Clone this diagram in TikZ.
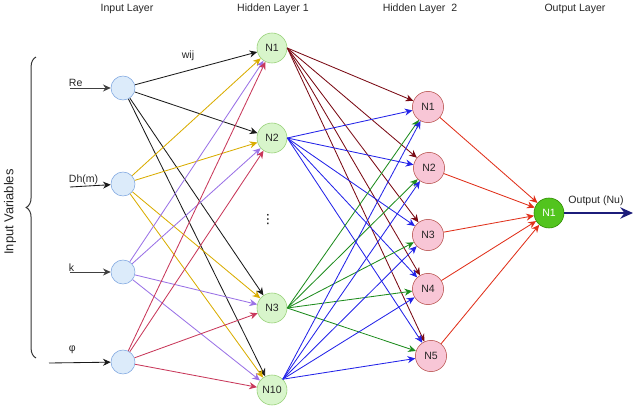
\documentclass[tikz,border=0pt]{standalone}
\usepackage{fontspec}
\setmainfont{Liberation Sans}
\newfontfamily\symfont{DejaVu Sans}
\usetikzlibrary{arrows.meta,decorations.pathreplacing,calc}
\definecolor{infill}{HTML}{DCEBFA}
\definecolor{indraw}{HTML}{7EA6E0}
\definecolor{hafill}{HTML}{D8F5CB}
\definecolor{hadraw}{HTML}{97D077}
\definecolor{hbfill}{HTML}{F8C6D6}
\definecolor{hbdraw}{HTML}{B85450}
\definecolor{outfill}{HTML}{52C41E}
\definecolor{outdraw}{HTML}{2D8A00}
\definecolor{cblack}{HTML}{1A1A1A}
\definecolor{cgold}{HTML}{D9AC00}
\definecolor{cpurple}{HTML}{9A72E6}
\definecolor{ccrimson}{HTML}{C8385A}
\definecolor{cdarkred}{HTML}{7A0A14}
\definecolor{cblue}{HTML}{2323E8}
\definecolor{cgreen}{HTML}{1E8C1E}
\definecolor{cred}{HTML}{E0301A}
\definecolor{cnavy}{HTML}{1C1C7A}
\tikzset{
    inode/.style = {draw=indraw, fill=infill, circle, 
        minimum size=0.6cm, inner sep=0pt},
    hanode/.style = {draw=hadraw, fill=hafill, circle, 
        minimum size=0.75cm, inner sep=0pt},
    hbnode/.style = {draw=hbdraw, fill=hbfill, circle, 
        minimum size=0.78cm, inner sep=0pt},
    onode/.style = {draw=outdraw, fill=outfill, circle, text=white,
        minimum size=0.75cm, inner sep=0pt},
    arrow/.style = {draw, -{Stealth[length=5.5pt,width=5pt]}, line width=0.6pt},
    outarrow/.style = {draw=cnavy, -{Stealth[length=9pt,width=8pt]}, line width=1.6pt},
    brace/.style = {draw=black!80, line width=0.7pt, decorate,
        decoration={brace,amplitude=7pt}}
}

\begin{document}
\begin{tikzpicture}[x=0.025cm, y=-0.025cm,
    every node/.append style={font=\fontsize{7.5}{9}\selectfont, text=black!85}]
    \useasboundingbox (0,0) rectangle (640,408);
    % layer titles
    \node (tin) at (127,9) {Input Layer};
    \node (tha) at (273,9) {Hidden Layer 1};
    \node (thb) at (420,9) {Hidden Layer~~2};
    \node (tout) at (575,9) {Output Layer};
    % input variables
    \draw[brace] (36,358) -- (36,57);
    \node[rotate=90, font=\fontsize{9.2}{11}\selectfont] (tvar) at (10,212) {Input Variables};
    \node[anchor=south west] (lre) at (64,92) {Re};
    \node[anchor=south west] (ldh) at (64,190) {Dh(m)};
    \node[anchor=south west] (lk) at (64,276) {k};
    \node[anchor=south west] (lphi) at (64,359) {φ};
    \coordinate (cre) at (70,88);
    \coordinate (cdh) at (70,187);
    \coordinate (ck) at (70,272);
    \coordinate (cphi) at (49,363);
    % nodes
    \node[inode] (in1) at (123,88) {};
    \node[inode] (in2) at (123,184) {};
    \node[inode] (in3) at (123,272) {};
    \node[inode] (in4) at (123,362) {};
    \node[hanode] (ha1) at (272,48) {N1};
    \node[hanode] (ha2) at (272,138) {N2};
    \node[hanode] (ha3) at (272,308) {N3};
    \node[hanode] (ha4) at (272,390) {N10};
    \node[font=\symfont\fontsize{9}{10}\selectfont, text=black] (dots) at (268,220) {⋮};
    \node[hbnode] (hb1) at (428,107) {N1};
    \node[hbnode] (hb2) at (429,168) {N2};
    \node[hbnode] (hb3) at (428,235) {N3};
    \node[hbnode] (hb4) at (428,289) {N4};
    \node[hbnode] (hb5) at (431,356) {N5};
    \node[onode] (out) at (549,213) {N1};
    \coordinate (oend) at (633,213);
    \node (lout) at (596,201) {Output (Nu)};
    \node (lw) at (188,56) {wij};
    % inputs
    \draw [arrow, black!75] (cre) -- (in1);
    \draw [arrow, cblack] (cdh) -- (in2);
    \draw [arrow, black!75] (ck) -- (in3);
    \draw [arrow, cblack] (cphi) -- (in4);
    % input layer -> hidden layer 1
    \draw [arrow, cblack] (in1) -- (ha1);
    \draw [arrow, cblack] (in1) -- (ha2);
    \draw [arrow, cblack] (in1) -- (ha3);
    \draw [arrow, cblack] (in1) -- (ha4);
    \draw [arrow, cgold] (in2) -- (ha1);
    \draw [arrow, cgold] (in2) -- (ha2);
    \draw [arrow, cgold] (in2) -- (ha3);
    \draw [arrow, cgold] (in2) -- (ha4);
    \draw [arrow, cpurple] (in3) -- (ha1);
    \draw [arrow, cpurple] (in3) -- (ha2);
    \draw [arrow, cpurple] (in3) -- (ha3);
    \draw [arrow, cpurple] (in3) -- (ha4);
    \draw [arrow, ccrimson] (in4) -- (ha1);
    \draw [arrow, ccrimson] (in4) -- (ha2);
    \draw [arrow, ccrimson] (in4) -- (ha3);
    \draw [arrow, ccrimson] (in4) -- (ha4);
    % hidden layer 1 -> hidden layer 2
    \draw [arrow, cdarkred] (ha1.east) -- (hb1);
    \draw [arrow, cdarkred] (ha1.east) -- (hb2);
    \draw [arrow, cdarkred] (ha1.east) -- (hb3);
    \draw [arrow, cdarkred] (ha1.east) -- (hb4);
    \draw [arrow, cdarkred] (ha1.east) -- (hb5);
    \draw [arrow, cblue] (ha2.east) -- (hb1);
    \draw [arrow, cblue] (ha2.east) -- (hb2);
    \draw [arrow, cblue] (ha2.east) -- (hb3);
    \draw [arrow, cblue] (ha2.east) -- (hb4);
    \draw [arrow, cblue] (ha2.east) -- (hb5);
    \draw [arrow, cgreen] (ha3.east) -- (hb1);
    \draw [arrow, cgreen] (ha3.east) -- (hb2);
    \draw [arrow, cgreen] (ha3.east) -- (hb3);
    \draw [arrow, cgreen] (ha3.east) -- (hb4);
    \draw [arrow, cgreen] (ha3.east) -- (hb5);
    \draw [arrow, cblue] (ha4.45) -- (hb1);
    \draw [arrow, cblue] (ha4.45) -- (hb2);
    \draw [arrow, cblue] (ha4.45) -- (hb3);
    \draw [arrow, cblue] (ha4.45) -- (hb4);
    \draw [arrow, cblue] (ha4.45) -- (hb5);
    % hidden layer 2 -> output
    \draw [arrow, cred] (hb1) -- (out);
    \draw [arrow, cred] (hb2) -- (out);
    \draw [arrow, cred] (hb3) -- (out);
    \draw [arrow, cred] (hb4) -- (out);
    \draw [arrow, cred] (hb5) -- (out);
    \draw [outarrow] (out) -- (oend);
\end{tikzpicture}
\end{document}
